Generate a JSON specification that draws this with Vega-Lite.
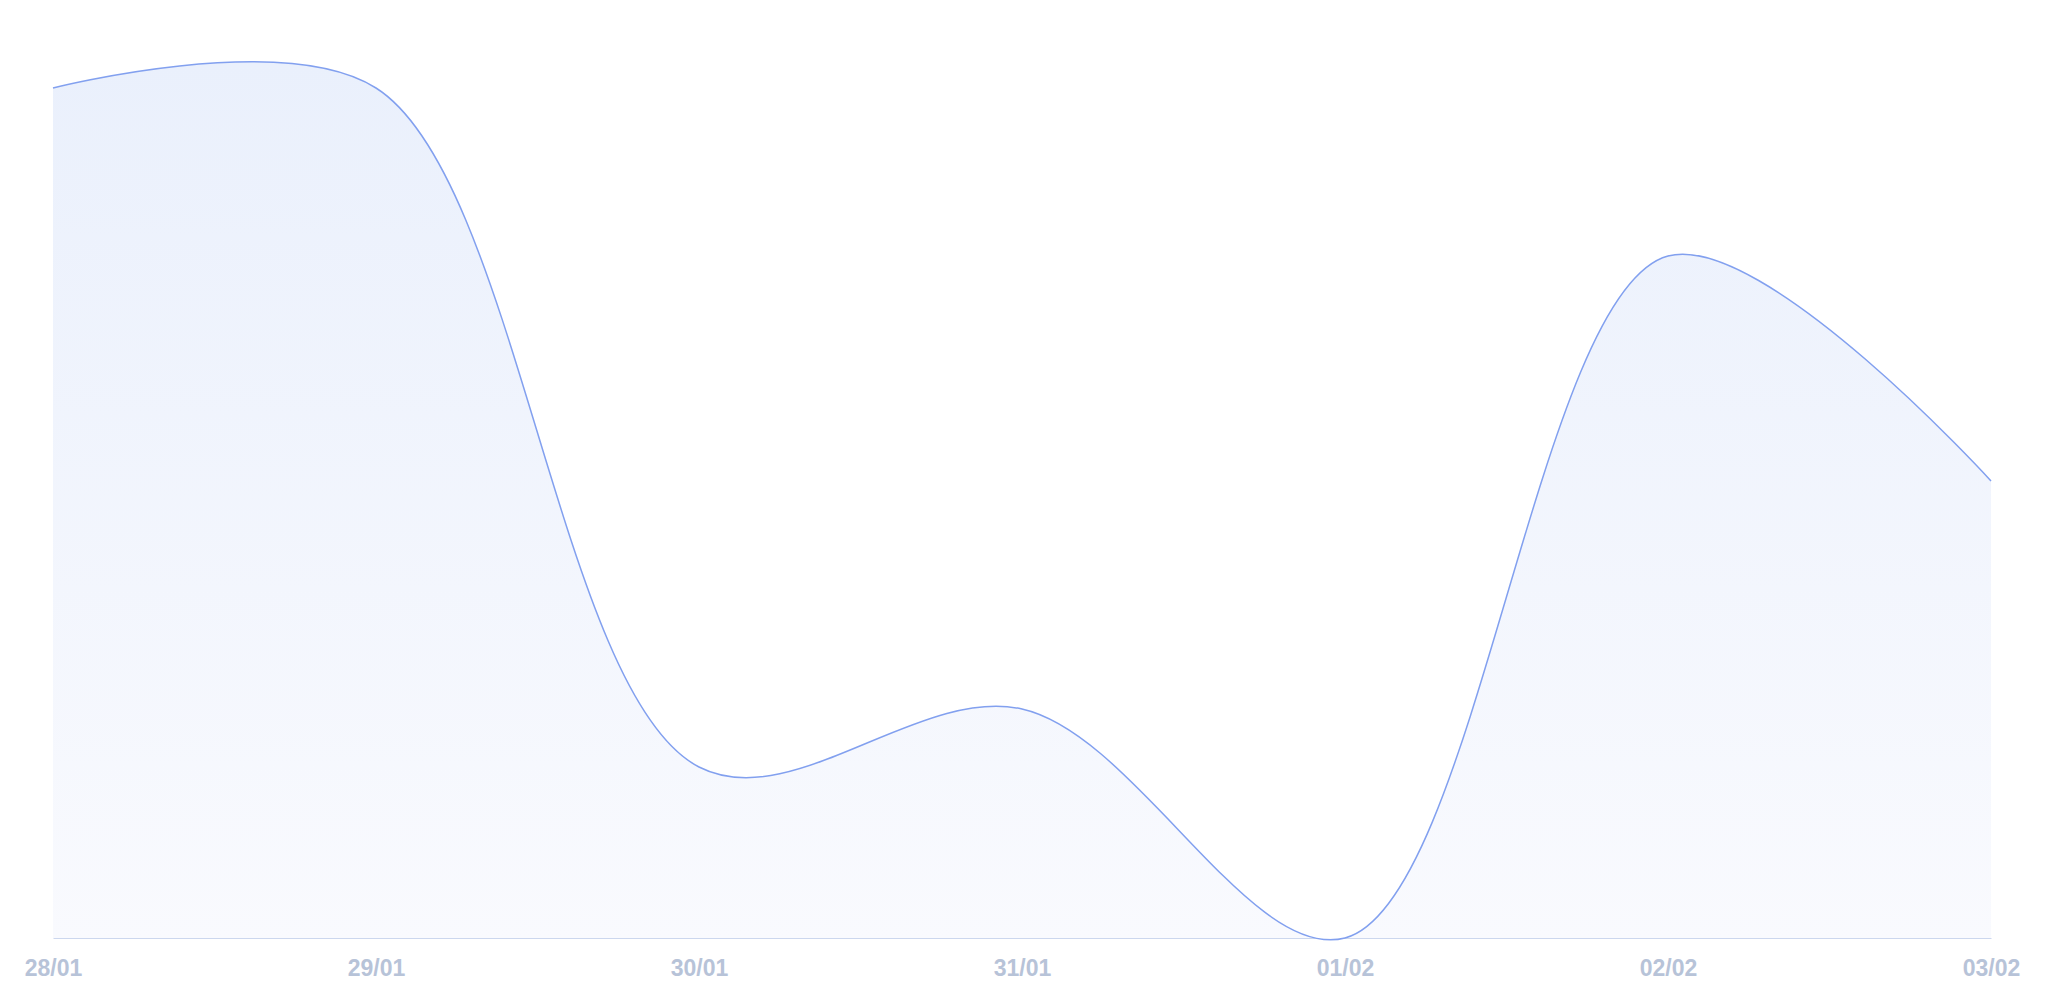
{
  "$schema": "https://vega.github.io/schema/vega-lite/v6.json",
  "width": 1938,
  "height": 928,
  "autosize": {"type": "none"},
  "padding": {"left": 53, "top": 10, "right": 59, "bottom": 62},
  "background": "white",
  "config": {"view": {"stroke": null}},
  "data": {"values": [
    {"date": "28/01", "value": 850},
    {"date": "29/01", "value": 850},
    {"date": "30/01", "value": 171},
    {"date": "31/01", "value": 229},
    {"date": "01/02", "value": 0},
    {"date": "02/02", "value": 682},
    {"date": "03/02", "value": 457}
  ]},
  "encoding": {
    "x": {"field": "date", "type": "ordinal", "sort": null,
      "scale": {"type": "point", "padding": 0},
      "axis": {"title": null, "labelAngle": 0, "ticks": false, "grid": false,
        "domainColor": "#ccd7ee", "domainWidth": 1,
        "labelFont": "Liberation Sans", "labelFontWeight": "bold", "labelFontSize": 23,
        "labelColor": "#b7c3d8", "labelPadding": 19}},
    "y": {"field": "value", "type": "quantitative",
      "scale": {"domain": [0, 928], "nice": false, "zero": true},
      "axis": null}
  },
  "layer": [
    {"mark": {"type": "area", "interpolate": "catmull-rom",
      "color": {"gradient": "linear", "x1": 0, "y1": 0, "x2": 0, "y2": 1,
        "stops": [{"offset": 0, "color": "#eaf0fc"}, {"offset": 1, "color": "#f9fafe"}]}}},
    {"mark": {"type": "line", "interpolate": "catmull-rom", "color": "#82a0ef", "strokeWidth": 1.5}}
  ]
}
